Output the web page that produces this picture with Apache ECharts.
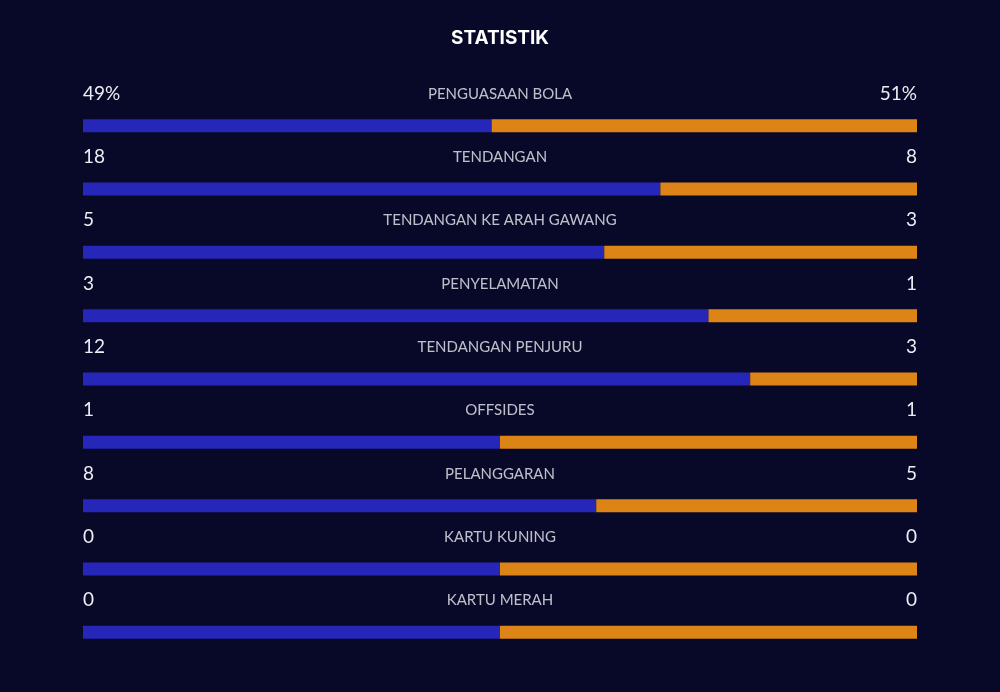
<!DOCTYPE html>
<html>
<head>
<meta charset="utf-8">
<script src="https://cdn.jsdelivr.net/npm/echarts@6/dist/echarts.min.js"></script>
<style>
html,body{margin:0;padding:0;background:#080828;}
#main{width:1000px;height:692px;}
</style>
</head>
<body>
<div id="main"></div>
<script>
// statistik pertandingan
var categories = ['PENGUASAAN BOLA','TENDANGAN','TENDANGAN KE ARAH GAWANG','PENYELAMATAN','TENDANGAN PENJURU','OFFSIDES','PELANGGARAN','KARTU KUNING','KARTU MERAH'];
var leftValues = [49, 18, 5, 3, 12, 1, 8, 0, 0];
var rightValues = [51, 8, 3, 1, 3, 1, 5, 0, 0];
var units = ['%', '', '', '', '', '', '', '', ''];

(function(){

var chart = echarts.init(document.getElementById('main'));

var leftShare = [], rightShare = [], middle = [];
for (var i = 0; i < categories.length; i++) {
    var sum = leftValues[i] + rightValues[i];
    var p = sum === 0 ? 0.5 : leftValues[i] / sum;
    leftShare.push(p);
    rightShare.push(1 - p);
    middle.push([0.5, categories[i]]);
}

var numLabel = {fontFamily: 'Lato', fontSize: 19, color: '#ececf2'};

option = {
    backgroundColor: '#080828',
    title: {
        text: 'STATISTIK',
        left: 'center',
        top: 24,
        textStyle: {fontFamily: 'Inter', fontWeight: 'bold', fontSize: 19, color: '#ffffff'}
    },
    grid: {left: 83, right: 83, top: 94, bottom: 28},
    xAxis: {type: 'value', min: 0, max: 1, show: false},
    yAxis: {type: 'category', data: categories, inverse: true, show: false},
    series: [
        {
            name: 'kiri',
            type: 'bar',
            stack: 'all',
            barWidth: 13,
            data: leftShare,
            itemStyle: {color: '#2626b8'},
            silent: true,
            label: Object.assign({
                show: true,
                position: 'insideLeft',
                distance: 0,
                offset: [0, -32],
                formatter: function (p) { return leftValues[p.dataIndex] + units[p.dataIndex]; }
            }, numLabel)
        },
        {
            name: 'kanan',
            type: 'bar',
            stack: 'all',
            barWidth: 13,
            data: rightShare,
            itemStyle: {color: '#dc8416'},
            silent: true,
            label: Object.assign({
                show: true,
                position: 'insideRight',
                distance: 0,
                offset: [0, -32],
                formatter: function (p) { return rightValues[p.dataIndex] + units[p.dataIndex]; }
            }, numLabel)
        },
        {
            name: 'label',
            type: 'scatter',
            symbolSize: 0,
            data: middle,
            silent: true,
            label: {
                show: true,
                position: 'inside',
                offset: [0, -32],
                fontFamily: 'Lato',
                fontSize: 15,
                color: '#eeeef4',
                formatter: function (p) { return p.value[1]; }
            }
        }
    ]
};

chart.setOption(option);
})();
</script>
</body>
</html>
